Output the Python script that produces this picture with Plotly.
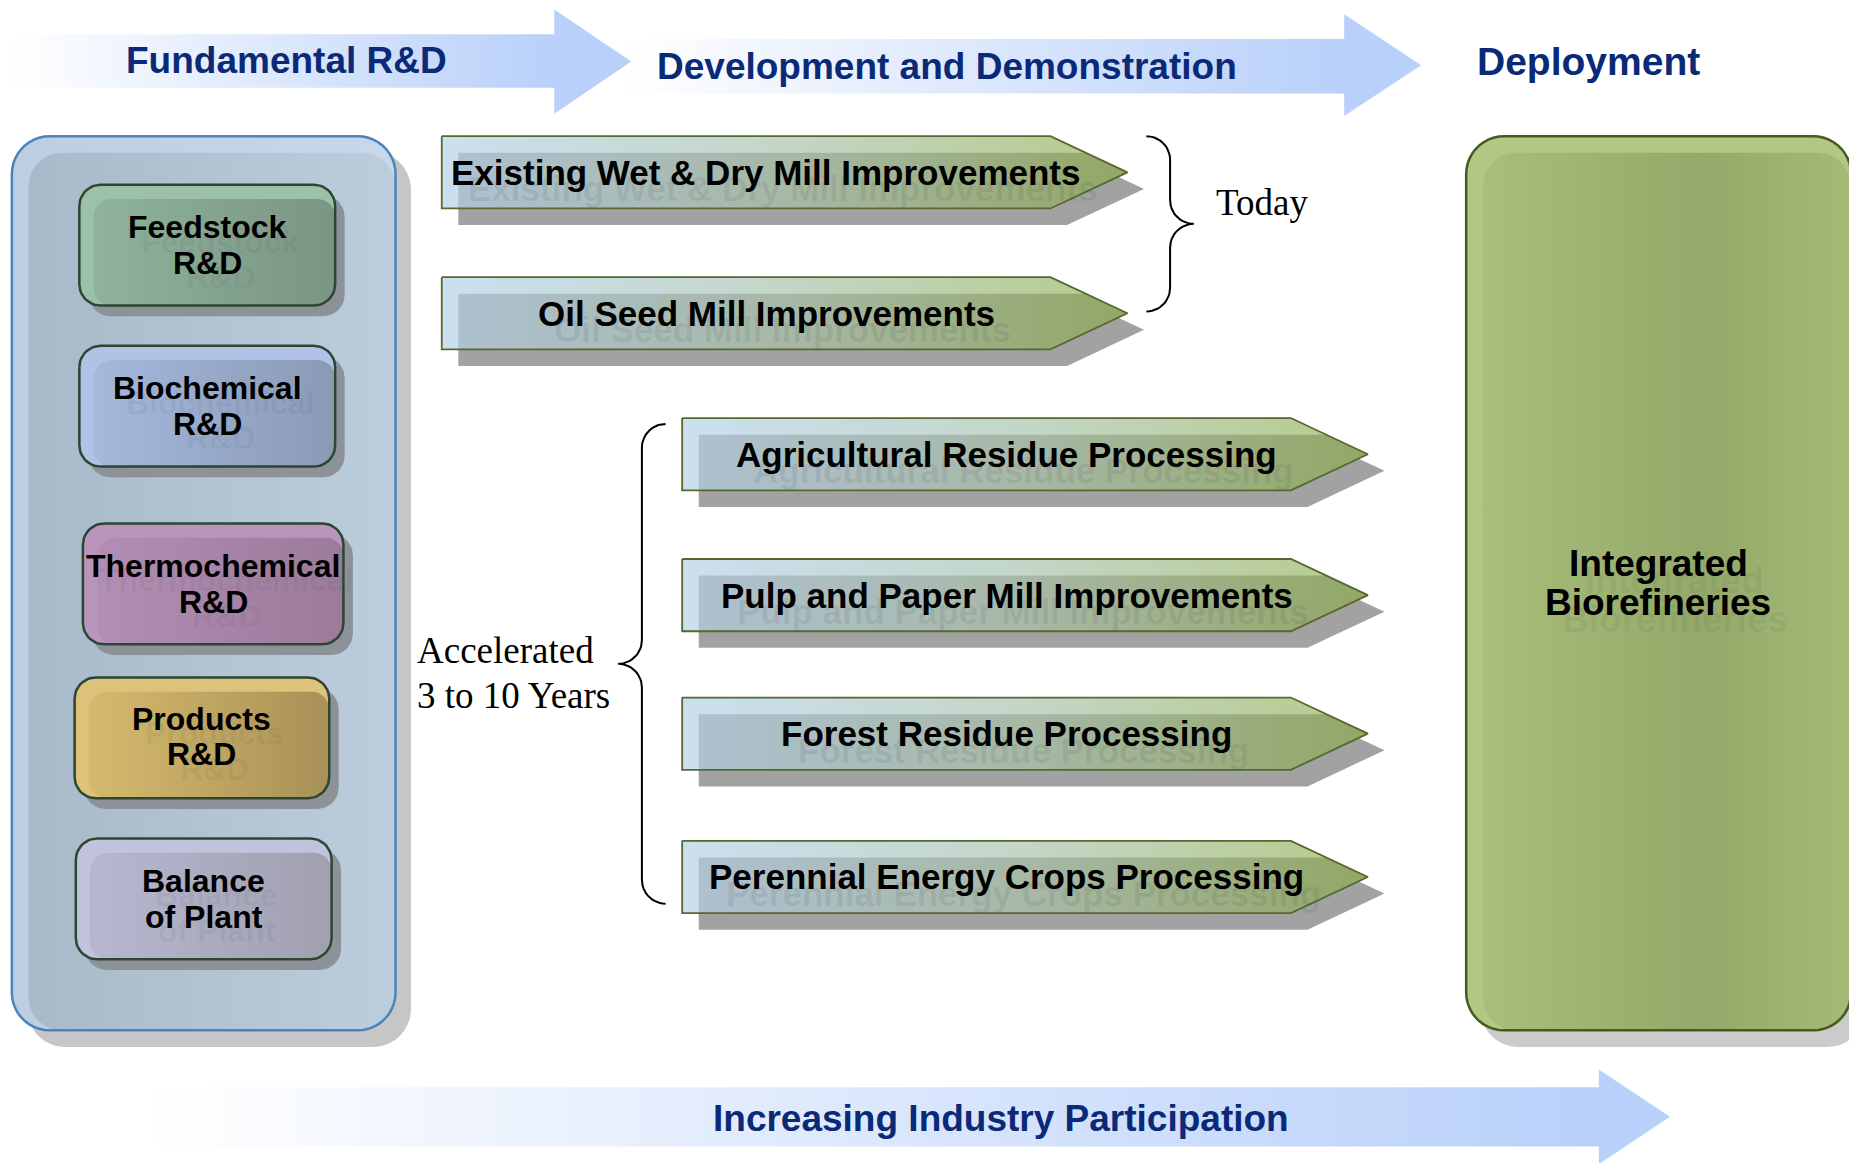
import numpy as np
import plotly.graph_objects as go

# ---- text content ----
phase_labels = ["Fundamental R&D", "Development and Demonstration", "Deployment"]
participation_label = "Increasing Industry Participation"
rd_line1 = ["Feedstock", "Biochemical", "Thermochemical", "Products", "Balance"]
rd_line2 = ["R&D", "R&D", "R&D", "R&D", "of Plant"]
pathway_labels = [
    "Existing Wet & Dry Mill Improvements",
    "Oil Seed Mill Improvements",
    "Agricultural Residue Processing",
    "Pulp and Paper Mill Improvements",
    "Forest Residue Processing",
    "Perennial Energy Crops Processing",
]
today_label = "Today"
accel_lines = ["Accelerated", "3 to 10 Years"]
deploy_lines = ["Integrated", "Biorefineries"]

# ---- layout (drawing units, 1568 x 982 canvas scaled onto the page) ----
W, H = 1568, 982
PX = 1857 / W          # page pixels per drawing unit
OFF = 8 / PX           # page body margin, in drawing units

rd_x0 = [67, 67, 70, 63, 64]
rd_x1 = [283, 283, 290, 278, 280]
rd_y0 = [156, 292, 442, 572, 708]
rd_h = 102
rd_light = ["#9cc1a9", "#b0c3e6", "#b995bc", "#dcc27a", "#c1c2dc"]
rd_inner = [("#90b59d", "#7a9584"), ("#a7badf", "#8a9ab5"), ("#b48fb6", "#9b7a9a"),
            ("#d8bc6e", "#a89157"), ("#b8b8d2", "#a0a0b0")]
rd_ty = [207, 343, 493, 622, 759]

path_x0 = [373, 373, 576, 576, 576, 576]
path_y0 = [115, 234, 353, 472, 589, 710]
path_len, path_head, path_h = 514, 65, 61

NAVY = "#0a2a78"
SANS = "Liberation Sans, Arial"
SERIF = "Liberation Serif, Times New Roman"

fig = go.Figure()


def poly(xs, ys, fill=None, grad=None, line=None, width=0):
    xs, ys = list(xs), list(ys)
    kw = dict(x=xs + [xs[0]], y=ys + [ys[0]], mode="lines",
              hoverinfo="skip", showlegend=False)
    kw["line"] = dict(color=line, width=width) if line else dict(width=0, color="rgba(0,0,0,0)")
    if grad is not None:
        kw["fill"] = "toself"
        kw["fillgradient"] = dict(type="horizontal", colorscale=grad[0], start=grad[1], stop=grad[2])
    elif fill is not None:
        kw["fill"] = "toself"
        kw["fillcolor"] = fill
    else:
        kw["fill"] = "none"
    fig.add_trace(go.Scatter(**kw))


def rrect(x0, y0, x1, y1, r, n=12):
    xs, ys = [], []
    for cx, cy, a0 in [(x0 + r, y0 + r, 180), (x1 - r, y0 + r, 270),
                       (x1 - r, y1 - r, 0), (x0 + r, y1 - r, 90)]:
        t = np.radians(np.linspace(a0, a0 + 90, n))
        xs += list(cx + r * np.cos(t))
        ys += list(cy + r * np.sin(t))
    return xs, ys


def big_arrow(x0, xb, xt, yb0, yb1, yh0, yh1):
    ym = (yh0 + yh1) / 2
    return [x0, xb, xb, xt, xb, xb, x0], [yb0, yb0, yh0, ym, yh1, yb1, yb1]


def pentagon(x0, y0, dx=0, dy=0):
    xb, xt = x0 + path_len, x0 + path_len + path_head
    y1, ym = y0 + path_h, y0 + path_h / 2
    return ([x0 + dx, xb + dx, xt + dx, xb + dx, x0 + dx],
            [y0 + dy, y0 + dy, ym + dy, y1 + dy, y1 + dy])


def brace(xa, xm, xp, y0, y1, n=14):
    s = np.sign(xm - xa)
    r, r2 = abs(xm - xa), abs(xp - xm)
    ym = (y0 + y1) / 2
    xs, ys = [], []
    for cx, cy, rr, a0, a1 in [(xa, y0 + r, r, -90, 0), (xm + s * r2, ym - r2, r2, 180, 90),
                               (xm + s * r2, ym + r2, r2, 270, 180), (xa, y1 - r, r, 0, 90)]:
        t = np.radians(np.linspace(a0, a1, n))
        xs += list(cx + s * rr * np.cos(t))
        ys += list(cy + rr * np.sin(t))
    fig.add_trace(go.Scatter(x=xs, y=ys, mode="lines", line=dict(color="black", width=2),
                             hoverinfo="skip", showlegend=False))


BLUE_FADE = [[0, "#ffffff"], [1, "#b9d0fa"]]

# phase arrows
xs, ys = big_arrow(526, 1135, 1200, 33, 79, 12, 98)
poly(xs, ys, grad=(BLUE_FADE, 526, 1135))
xs, ys = big_arrow(8, 468, 533, 29, 74, 8, 96)
poly(xs, ys, grad=(BLUE_FADE, 8, 468))
xs, ys = big_arrow(120, 1350, 1410, 918, 968, 903, 983)
poly(xs, ys, grad=(BLUE_FADE, 120, 1350))

# left R&D panel
poly(*rrect(23, 128, 347, 884, 32), fill="#c6c6c6")
poly(*rrect(10, 115, 334, 870, 32), grad=([[0, "#bccee0"], [1, "#c6d8ea"]], 10, 334))
poly(*rrect(24, 129, 334, 870, 28), grad=([[0, "#a8b9ca"], [1, "#bccddd"]], 24, 334))
poly(*rrect(10, 115, 334, 870, 32), line="#4a84bd", width=2.5)

for i in range(len(rd_line1)):
    x0, x1, y0 = rd_x0[i], rd_x1[i], rd_y0[i]
    y1 = y0 + rd_h
    poly(*rrect(x0 + 8, y0 + 9, x1 + 8, y1 + 9, 18), fill="#8c9297")
    poly(*rrect(x0, y0, x1, y1, 18), fill=rd_light[i])
    poly(*rrect(x0 + 12, y0 + 12, x1, y1, 15), grad=([[0, rd_inner[i][0]], [1, rd_inner[i][1]]], x0, x1))
    poly(*rrect(x0, y0, x1, y1, 18), line="#2c4632", width=2.5)

# pathway arrows
for i in range(len(pathway_labels)):
    x0, y0 = path_x0[i], path_y0[i]
    xb, xt = x0 + path_len, x0 + path_len + path_head
    poly(*pentagon(x0, y0, 14, 14), fill="#a2a2a2")
    poly(*pentagon(x0, y0), grad=([[0, "#cbdff0"], [0.5, "#c3d6c8"], [1, "#b6ca8a"]], x0, xt))
    ins = 14
    xi = xb + path_head * ins / (path_h / 2)
    poly([x0 + ins, xi, xt, xb, x0 + ins], [y0 + ins, y0 + ins, y0 + path_h / 2, y0 + path_h, y0 + path_h],
         grad=([[0, "#aec1d1"], [0.5, "#a7b8a6"], [1, "#93a766"]], x0, xt))
    poly(*pentagon(x0, y0), line="#56682f", width=1.8)

# deployment box
poly(*rrect(1250, 127, 1575, 884, 32), fill="#cbcbcb")
poly(*rrect(1238, 115, 1563, 870, 32), fill="#b2c784")
poly(*rrect(1252, 129, 1563, 870, 28),
     grad=([[0, "#a9be7a"], [0.6, "#94a869"], [1, "#a6ba77"]], 1252, 1563))
poly(*rrect(1238, 115, 1563, 870, 32), line="#485a23", width=2.5)

# braces
brace(968, 988, 1008, 115, 263)
brace(562, 542, 522, 358, 763)

ann = []


def text(x, y, s, size, family, color="black", bold=True, anchor="center"):
    ann.append(dict(x=x, y=y, xref="x", yref="y", text=f"<b>{s}</b>" if bold else s,
                    showarrow=False, xanchor=anchor, yanchor="middle",
                    font=dict(size=size, family=family, color=color)))


GHOST = "rgba(40,50,60,0.09)"
GHOST_BOX = "rgba(40,50,60,0.06)"

# ghost text (soft reflections)
for i in range(len(rd_line1)):
    cx = (rd_x0[i] + rd_x1[i]) / 2
    text(cx + 11, rd_ty[i] - 15 + 12, rd_line1[i], 32, SANS, GHOST_BOX)
    text(cx + 11, rd_ty[i] + 15 + 12, rd_line2[i], 32, SANS, GHOST_BOX)
for i, lab in enumerate(pathway_labels):
    text(path_x0[i] + 274 + 14, path_y0[i] + path_h / 2 + 14, lab, 35, SANS, GHOST)
text(1400 + 14, 476 + 14, deploy_lines[0], 37, SANS, GHOST_BOX)
text(1400 + 14, 509 + 14, deploy_lines[1], 37, SANS, GHOST_BOX)

# headings
text(242, 51, phase_labels[0], 37, SANS, NAVY)
text(800, 56, phase_labels[1], 37, SANS, NAVY)
text(1341, 52, phase_labels[2], 39, SANS, NAVY)
text(845, 944, participation_label, 37, SANS, NAVY)

# R&D boxes
for i in range(len(rd_line1)):
    cx = (rd_x0[i] + rd_x1[i]) / 2
    text(cx, rd_ty[i] - 15, rd_line1[i], 32, SANS)
    text(cx, rd_ty[i] + 15, rd_line2[i], 32, SANS)

# pathways
for i, lab in enumerate(pathway_labels):
    text(path_x0[i] + 274, path_y0[i] + path_h / 2, lab, 35, SANS)

# side notes
text(1025, 171, today_label, 37, SERIF, bold=False, anchor="left")
text(350, 549, accel_lines[0], 37, SERIF, bold=False, anchor="left")
text(350, 587, accel_lines[1], 37, SERIF, bold=False, anchor="left")

text(1400, 476, deploy_lines[0], 37, SANS)
text(1400, 509, deploy_lines[1], 37, SANS)

fig.update_layout(
    width=1857, height=1163, autosize=False,
    margin=dict(l=0, r=0, t=0, b=0),
    paper_bgcolor="white", plot_bgcolor="white",
    xaxis=dict(range=[OFF, W + OFF], visible=False, fixedrange=True),
    yaxis=dict(range=[H + OFF, OFF], visible=False, fixedrange=True),
    annotations=ann, showlegend=False, hovermode=False,
)
fig.write_html("out.html")
